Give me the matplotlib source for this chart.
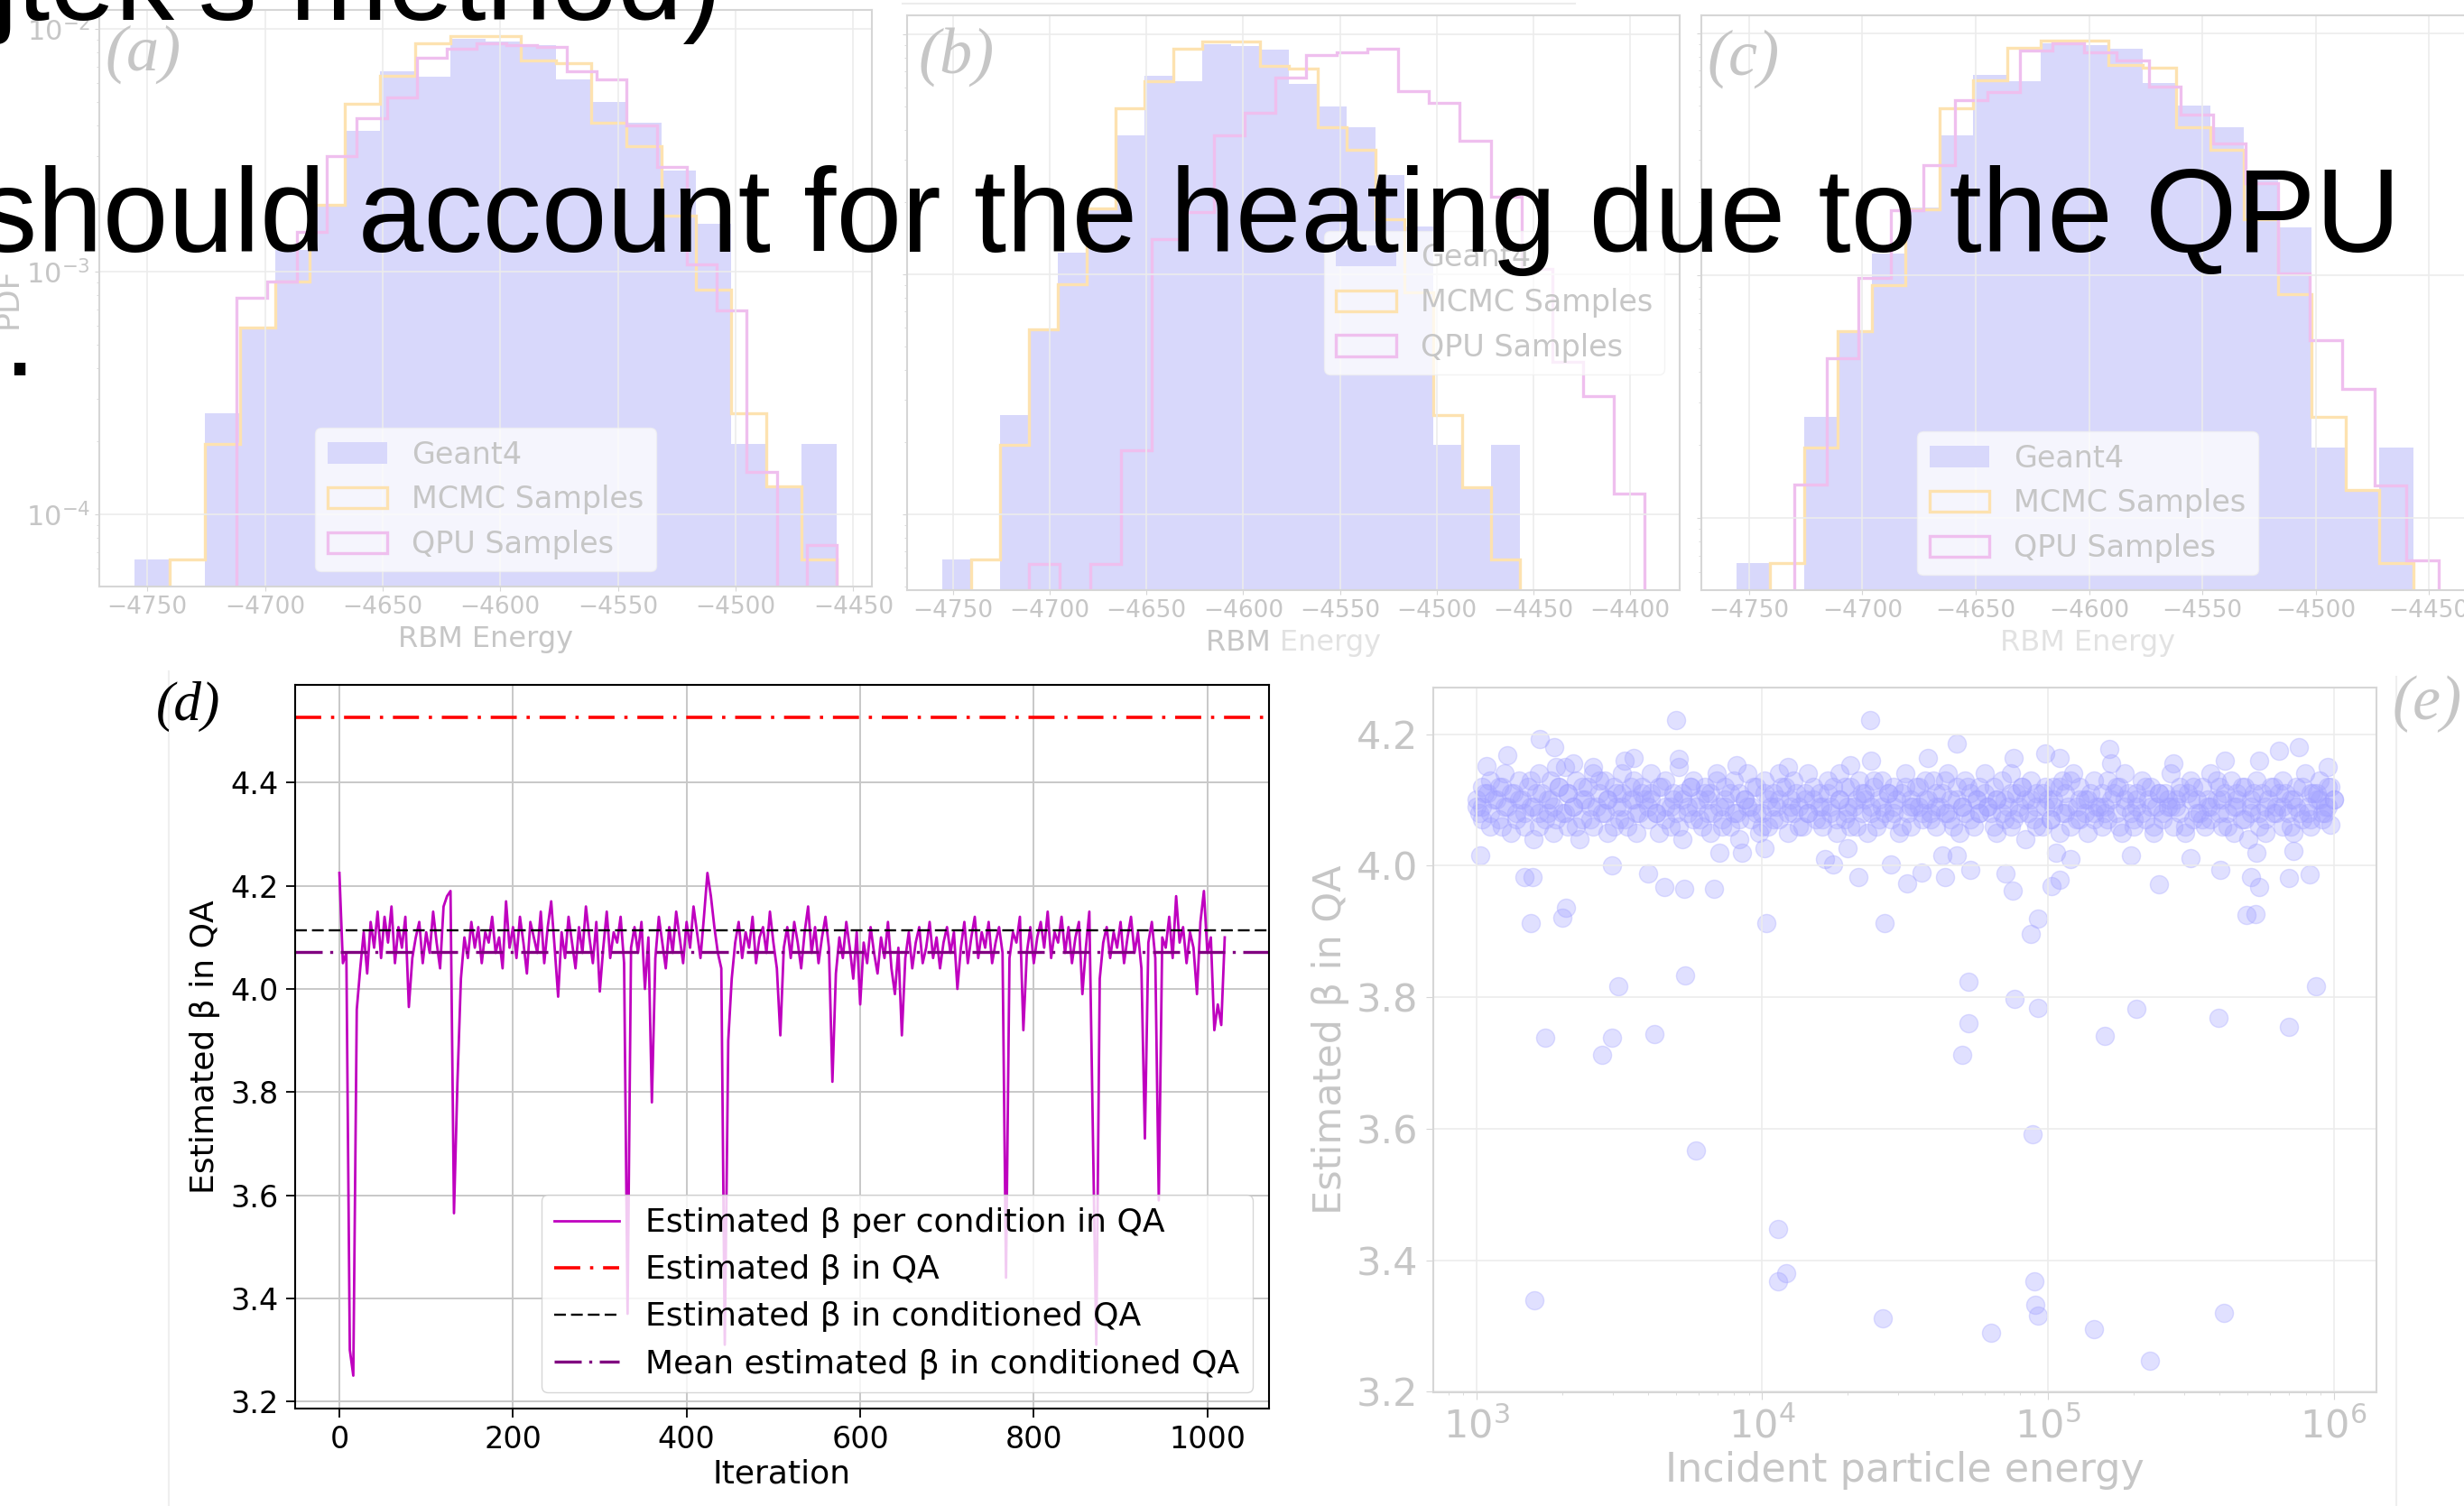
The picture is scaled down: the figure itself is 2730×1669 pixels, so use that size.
import numpy as np
import matplotlib
matplotlib.use("Agg")
import matplotlib.pyplot as plt
from matplotlib.patches import Patch, Rectangle
from matplotlib.lines import Line2D

W, H = 2730, 1669

# --- DATA: RBM energy histograms, PDF per bin (panels a, b, c) ---
g4_range = (-4755.5, -4457.0)
g4_pdf = [6.5e-5, 0, 2.6e-4, 5.9e-4, 1.23e-3, 1.9e-3, 3.8e-3, 6.7e-3, 6.35e-3, 9.1e-3,
          8.9e-3, 8.6e-3, 6.2e-3, 5.0e-3, 4.1e-3, 2.6e-3, 1.58e-3, 1.95e-4, 1.3e-4, 1.95e-4]
mcmc_pdf = [0, 6.5e-5, 1.95e-4, 5.9e-4, 9.1e-4, 1.88e-3, 4.9e-3, 6.4e-3, 8.7e-3, 9.3e-3,
            9.3e-3, 7.4e-3, 7.2e-3, 4.1e-3, 3.3e-3, 1.7e-3, 8.4e-4, 2.6e-4, 1.3e-4, 6.5e-5]
qpu_a_range = (-4712.0, -4457.0)
qpu_a_pdf = [7.8e-4, 9.1e-4, 1.46e-3, 3.0e-3, 4.3e-3, 5.2e-3, 7.6e-3, 8.3e-3, 8.7e-3, 8.6e-3,
             8.4e-3, 6.7e-3, 6.2e-3, 4.0e-3, 2.7e-3, 1.07e-3, 6.9e-4, 1.5e-4, 0, 7.5e-5]
qpu_b_range = (-4710.7, -4392.6)
qpu_b_pdf = [6.2e-5, 0, 6.2e-5, 1.85e-4, 1.4e-3, 1.82e-3, 3.8e-3, 4.7e-3, 6.6e-3, 8.2e-3,
             8.4e-3, 8.7e-3, 5.8e-3, 5.2e-3, 3.6e-3, 2.1e-3, 1.05e-3, 4.3e-4, 3.1e-4, 1.22e-4]
qpu_c_range = (-4730.0, -4445.7)
qpu_c_pdf = [1.37e-4, 4.55e-4, 9.8e-4, 1.85e-3, 2.84e-3, 5.3e-3, 5.7e-3, 8.5e-3, 9.1e-3, 8.3e-3,
             7.7e-3, 6.0e-3, 4.6e-3, 3.5e-3, 2.4e-3, 1.02e-3, 5.4e-4, 3.4e-4, 1.36e-4, 6.7e-5]

# --- DATA: panel (d), estimated beta per condition, one value every 4 iterations ---
beta_step = 4
beta_per_cond = [
    4.225, 4.05, 4.07, 3.30, 3.25, 3.96, 4.04, 4.11, 4.03, 4.13, 4.08, 4.15, 4.06, 4.14, 4.09, 4.16,
    4.05, 4.12, 4.08, 4.14, 3.965, 4.06, 4.10, 4.13, 4.05, 4.11, 4.07, 4.15, 4.09, 4.04, 4.16, 4.18,
    4.19, 3.565, 3.82, 4.02, 4.10, 4.06, 4.13, 4.08, 4.12, 4.05, 4.11, 4.09, 4.14, 4.07, 4.10, 4.04,
    4.17, 4.08, 4.12, 4.06, 4.14, 4.09, 4.03, 4.13, 4.10, 4.07, 4.15, 4.05, 4.12, 4.17, 4.08, 3.985,
    4.11, 4.06, 4.14, 4.09, 4.04, 4.12, 4.07, 4.16, 4.10, 4.05, 4.13, 3.995, 4.08, 4.15, 4.06, 4.11,
    4.09, 4.14, 4.05, 3.37, 4.08, 4.12, 4.07, 4.13, 4.00, 4.10, 3.78, 4.06, 4.14, 4.09, 4.04, 4.12,
    4.07, 4.15, 4.10, 4.05, 4.13, 4.08, 4.16, 4.11, 4.06, 4.14, 4.225, 4.18, 4.12, 4.07, 4.04, 3.31,
    3.90, 4.02, 4.09, 4.13, 4.06, 4.11, 4.08, 4.14, 4.05, 4.10, 4.12, 4.07, 4.15, 4.09, 4.04, 3.91,
    4.08, 4.12, 4.06, 4.13, 4.09, 4.04, 4.11, 4.16, 4.07, 4.12, 4.05, 4.10, 4.14, 4.08, 3.82, 4.03,
    4.10, 4.06, 4.13, 4.08, 4.02, 4.11, 3.97, 4.09, 4.05, 4.12, 4.07, 4.03, 4.10, 4.06, 4.13, 4.04,
    3.99, 4.08, 3.91, 4.06, 4.11, 4.04, 4.09, 4.12, 4.05, 4.08, 4.13, 4.06, 4.10, 4.04, 4.09, 4.12,
    4.07, 4.11, 4.00, 4.08, 4.13, 4.05, 4.10, 4.14, 4.06, 4.11, 4.08, 4.13, 4.05, 4.09, 4.12, 4.07,
    3.44, 4.06, 4.11, 4.09, 4.14, 3.92, 4.07, 4.12, 4.05, 4.10, 4.13, 4.08, 4.15, 4.06, 4.11, 4.09,
    4.14, 4.07, 4.12, 4.05, 4.10, 4.13, 3.99, 4.08, 4.15, 3.73, 3.31, 4.02, 4.09, 4.12, 4.06, 4.11,
    4.08, 4.13, 4.05, 4.10, 4.14, 4.07, 4.11, 4.04, 3.71, 4.09, 4.13, 4.06, 3.59, 4.10, 4.08, 4.14,
    4.06, 4.18, 4.09, 4.12, 4.05, 4.11, 4.08, 3.99, 4.13, 4.19, 4.07, 4.10, 3.92, 3.97, 3.93, 4.10,
]
beta_qa = 4.526
beta_cond_qa = 4.114
beta_cond_mean = 4.072
d_xticks = [0, 200, 400, 600, 800, 1000]
d_yticks = [3.2, 3.4, 3.6, 3.8, 4.0, 4.2, 4.4]

# --- DATA: panel (e), beta vs incident energy (log10 of energy) ---
band_logE = [
    3.00, 3.01, 3.02, 3.02, 3.04, 3.05, 3.05, 3.07, 3.08, 3.09, 3.10, 3.10, 3.12, 3.13, 3.14, 3.15, 3.15, 3.17, 3.18, 3.19,
    3.20, 3.21, 3.22, 3.22, 3.24, 3.25, 3.26, 3.27, 3.27, 3.29, 3.30, 3.31, 3.32, 3.32, 3.34, 3.35, 3.36, 3.37, 3.37, 3.39,
    3.40, 3.41, 3.41, 3.43, 3.44, 3.45, 3.46, 3.46, 3.48, 3.49, 3.50, 3.51, 3.51, 3.53, 3.54, 3.55, 3.56, 3.56, 3.58, 3.59,
    3.60, 3.61, 3.61, 3.63, 3.64, 3.65, 3.66, 3.66, 3.68, 3.69, 3.70, 3.71, 3.72, 3.72, 3.74, 3.75, 3.76, 3.76, 3.78, 3.79,
    3.80, 3.81, 3.82, 3.82, 3.84, 3.85, 3.86, 3.87, 3.87, 3.89, 3.90, 3.91, 3.92, 3.92, 3.94, 3.95, 3.96, 3.96, 3.98, 3.99,
    4.00, 4.01, 4.02, 4.02, 4.04, 4.05, 4.06, 4.06, 4.08, 4.09, 4.10, 4.11, 4.11, 4.13, 4.14, 4.15, 4.16, 4.16, 4.18, 4.19,
    4.20, 4.21, 4.21, 4.23, 4.24, 4.25, 4.26, 4.27, 4.27, 4.29, 4.30, 4.31, 4.31, 4.33, 4.34, 4.35, 4.36, 4.37, 4.38, 4.39,
    4.40, 4.41, 4.42, 4.43, 4.44, 4.45, 4.46, 4.46, 4.48, 4.49, 4.50, 4.51, 4.52, 4.52, 4.54, 4.55, 4.56, 4.57, 4.57, 4.59,
    4.60, 4.61, 4.61, 4.63, 4.64, 4.65, 4.66, 4.66, 4.68, 4.69, 4.70, 4.71, 4.71, 4.73, 4.74, 4.75, 4.76, 4.76, 4.78, 4.79,
    4.80, 4.81, 4.82, 4.82, 4.84, 4.85, 4.86, 4.87, 4.87, 4.89, 4.90, 4.91, 4.92, 4.92, 4.94, 4.95, 4.96, 4.96, 4.98, 4.99,
    5.00, 5.01, 5.02, 5.02, 5.04, 5.05, 5.06, 5.06, 5.08, 5.09, 5.10, 5.11, 5.11, 5.13, 5.14, 5.15, 5.16, 5.16, 5.18, 5.19,
    5.20, 5.21, 5.21, 5.23, 5.24, 5.25, 5.26, 5.27, 5.27, 5.29, 5.30, 5.31, 5.31, 5.33, 5.34, 5.35, 5.36, 5.37, 5.38, 5.39,
    5.40, 5.41, 5.42, 5.43, 5.44, 5.45, 5.46, 5.46, 5.48, 5.49, 5.50, 5.51, 5.52, 5.52, 5.54, 5.55, 5.56, 5.57, 5.57, 5.59,
    5.60, 5.61, 5.61, 5.63, 5.64, 5.65, 5.66, 5.66, 5.68, 5.69, 5.70, 5.71, 5.71, 5.73, 5.74, 5.75, 5.76, 5.76, 5.78, 5.79,
    5.80, 5.81, 5.82, 5.82, 5.84, 5.85, 5.86, 5.87, 5.87, 5.89, 5.90, 5.91, 5.92, 5.92, 5.94, 5.95, 5.96, 5.97, 5.98, 6.00,
]
band_beta = [
    4.10, 4.08, 4.12, 4.09, 4.11, 4.06, 4.13, 4.10, 4.07, 4.12, 4.09, 4.14, 4.05, 4.11, 4.08, 4.13, 4.10, 4.06, 4.12, 4.09,
    4.04, 4.11, 4.08, 4.14, 4.07, 4.10, 4.13, 4.05, 4.09, 4.12, 4.08, 4.15, 4.06, 4.11, 4.09, 4.13, 4.04, 4.10, 4.07, 4.12,
    4.09, 4.14, 4.06, 4.11, 4.08, 4.13, 4.10, 4.05, 4.12, 4.09, 4.07, 4.14, 4.11, 4.06, 4.10, 4.13, 4.08, 4.05, 4.12, 4.10,
    4.07, 4.11, 4.14, 4.08, 4.05, 4.12, 4.09, 4.13, 4.06, 4.10, 4.08, 4.15, 4.11, 4.04, 4.09, 4.12, 4.07, 4.13, 4.10, 4.06,
    4.12, 4.08, 4.11, 4.05, 4.14, 4.09, 4.07, 4.12, 4.10, 4.06, 4.13, 4.08, 4.11, 4.04, 4.10, 4.14, 4.07, 4.09, 4.12, 4.05,
    4.08, 4.13, 4.10, 4.06, 4.11, 4.09, 4.14, 4.07, 4.12, 4.05, 4.10, 4.08, 4.13, 4.09, 4.06, 4.11, 4.14, 4.08, 4.10, 4.07,
    4.11, 4.06, 4.09, 4.13, 4.08, 4.12, 4.05, 4.10, 4.14, 4.07, 4.09, 4.12, 4.06, 4.10, 4.13, 4.08, 4.11, 4.05, 4.09, 4.12,
    4.06, 4.10, 4.13, 4.08, 4.11, 4.07, 4.12, 4.09, 4.05, 4.11, 4.14, 4.08, 4.10, 4.06, 4.12, 4.09, 4.07, 4.13, 4.10, 4.08,
    4.13, 4.09, 4.06, 4.11, 4.08, 4.14, 4.10, 4.07, 4.12, 4.05, 4.09, 4.13, 4.08, 4.11, 4.06, 4.10, 4.12, 4.08, 4.14, 4.09,
    4.08, 4.12, 4.05, 4.10, 4.13, 4.07, 4.09, 4.14, 4.06, 4.11, 4.08, 4.12, 4.04, 4.10, 4.13, 4.07, 4.09, 4.11, 4.06, 4.12,
    4.10, 4.07, 4.12, 4.09, 4.05, 4.13, 4.08, 4.11, 4.06, 4.14, 4.09, 4.07, 4.12, 4.10, 4.05, 4.11, 4.08, 4.13, 4.09, 4.06,
    4.09, 4.13, 4.07, 4.11, 4.08, 4.12, 4.05, 4.10, 4.14, 4.08, 4.06, 4.11, 4.09, 4.13, 4.07, 4.10, 4.12, 4.05, 4.09, 4.11,
    4.07, 4.11, 4.09, 4.14, 4.06, 4.10, 4.12, 4.08, 4.05, 4.11, 4.13, 4.07, 4.10, 4.08, 4.12, 4.06, 4.09, 4.14, 4.07, 4.10,
    4.12, 4.06, 4.10, 4.08, 4.13, 4.05, 4.09, 4.11, 4.07, 4.12, 4.04, 4.10, 4.08, 4.13, 4.06, 4.11, 4.09, 4.05, 4.12, 4.08,
    4.09, 4.11, 4.06, 4.13, 4.08, 4.10, 4.05, 4.12, 4.09, 4.07, 4.14, 4.08, 4.11, 4.06, 4.10, 4.13, 4.07, 4.09, 4.12, 4.10,
]
core_logE = [
    3.00, 3.02, 3.03, 3.05, 3.06, 3.08, 3.09, 3.11, 3.12, 3.14, 3.16, 3.17, 3.19, 3.20, 3.22, 3.23, 3.25, 3.26, 3.28, 3.29,
    3.31, 3.32, 3.34, 3.35, 3.37, 3.38, 3.40, 3.42, 3.43, 3.45, 3.46, 3.48, 3.49, 3.51, 3.52, 3.54, 3.55, 3.57, 3.58, 3.60,
    3.61, 3.63, 3.64, 3.66, 3.68, 3.69, 3.71, 3.72, 3.74, 3.75, 3.77, 3.78, 3.80, 3.81, 3.83, 3.84, 3.86, 3.87, 3.89, 3.90,
    3.92, 3.94, 3.95, 3.97, 3.98, 4.00, 4.01, 4.03, 4.04, 4.06, 4.07, 4.09, 4.10, 4.12, 4.13, 4.15, 4.16, 4.18, 4.20, 4.21,
    4.23, 4.24, 4.26, 4.27, 4.29, 4.30, 4.32, 4.33, 4.35, 4.36, 4.38, 4.39, 4.41, 4.42, 4.44, 4.46, 4.47, 4.49, 4.50, 4.52,
    4.53, 4.55, 4.56, 4.58, 4.59, 4.61, 4.62, 4.64, 4.65, 4.67, 4.68, 4.70, 4.72, 4.73, 4.75, 4.76, 4.78, 4.79, 4.81, 4.82,
    4.84, 4.85, 4.87, 4.88, 4.90, 4.91, 4.93, 4.94, 4.96, 4.98, 4.99, 5.01, 5.02, 5.04, 5.05, 5.07, 5.08, 5.10, 5.11, 5.13,
    5.14, 5.16, 5.17, 5.19, 5.20, 5.22, 5.24, 5.25, 5.27, 5.28, 5.30, 5.31, 5.33, 5.34, 5.36, 5.37, 5.39, 5.40, 5.42, 5.43,
    5.45, 5.46, 5.48, 5.50, 5.51, 5.53, 5.54, 5.56, 5.57, 5.59, 5.60, 5.62, 5.63, 5.65, 5.66, 5.68, 5.69, 5.71, 5.72, 5.74,
    5.76, 5.77, 5.79, 5.80, 5.82, 5.83, 5.85, 5.86, 5.88, 5.89, 5.91, 5.92, 5.94, 5.95, 5.97, 5.98, 5.99, 6.00, 5.96, 5.93,
]
core_beta = [
    4.09, 4.07, 4.11, 4.08, 4.10, 4.12, 4.06, 4.09, 4.11, 4.07, 4.10, 4.08, 4.13, 4.09, 4.06, 4.11, 4.08, 4.10, 4.07, 4.12,
    4.08, 4.11, 4.09, 4.06, 4.12, 4.10, 4.07, 4.09, 4.13, 4.08, 4.10, 4.06, 4.11, 4.09, 4.07, 4.12, 4.10, 4.08, 4.11, 4.09,
    4.10, 4.08, 4.12, 4.07, 4.09, 4.11, 4.06, 4.10, 4.08, 4.12, 4.09, 4.07, 4.11, 4.10, 4.08, 4.13, 4.06, 4.09, 4.11, 4.08,
    4.07, 4.10, 4.09, 4.12, 4.08, 4.06, 4.11, 4.09, 4.07, 4.10, 4.12, 4.08, 4.09, 4.11, 4.06, 4.10, 4.08, 4.12, 4.09, 4.07,
    4.11, 4.09, 4.07, 4.10, 4.12, 4.08, 4.09, 4.06, 4.11, 4.10, 4.08, 4.13, 4.07, 4.09, 4.11, 4.08, 4.10, 4.06, 4.12, 4.09,
    4.09, 4.12, 4.08, 4.10, 4.07, 4.11, 4.09, 4.13, 4.08, 4.06, 4.10, 4.09, 4.12, 4.07, 4.10, 4.08, 4.11, 4.09, 4.06, 4.10,
    4.08, 4.10, 4.11, 4.07, 4.09, 4.12, 4.08, 4.10, 4.06, 4.11, 4.09, 4.07, 4.10, 4.12, 4.08, 4.09, 4.13, 4.07, 4.10, 4.08,
    4.10, 4.07, 4.09, 4.11, 4.08, 4.10, 4.12, 4.06, 4.09, 4.11, 4.07, 4.10, 4.08, 4.12, 4.09, 4.06, 4.11, 4.08, 4.10, 4.09,
    4.09, 4.11, 4.06, 4.10, 4.12, 4.08, 4.07, 4.10, 4.09, 4.13, 4.08, 4.11, 4.06, 4.09, 4.10, 4.12, 4.07, 4.09, 4.11, 4.08,
    4.07, 4.10, 4.12, 4.08, 4.09, 4.11, 4.06, 4.10, 4.08, 4.12, 4.09, 4.07, 4.11, 4.10, 4.08, 4.09, 4.12, 4.10, 4.08, 4.11,
]
out_logE = [
    3.70, 4.377, 4.68, 3.222, 3.274, 5.215, 5.879, 5.81,
    3.17, 3.196, 3.19, 3.30, 3.313, 3.476, 3.603, 3.658, 3.728, 3.832, 4.016, 4.338, 4.429, 4.507,
    4.559, 4.642, 4.73, 4.852, 4.878, 4.94, 4.966, 5.013, 5.04, 5.39, 5.605, 5.694, 5.727, 5.71,
    5.739, 5.843, 5.916,
    3.497, 3.24, 3.442, 3.476, 3.624, 3.73, 3.769, 4.722, 4.722, 4.70, 4.883, 4.966, 4.948, 5.2,
    5.311, 5.597, 5.843, 5.937,
    4.055, 4.055, 4.084, 3.204, 4.424, 4.80, 4.953, 4.956, 4.966, 5.163, 5.358, 5.615,
    3.014, 3.035, 3.11, 3.28, 3.34, 3.41, 3.52, 3.55, 3.71, 3.91, 4.09, 4.31, 4.38, 4.58, 4.88,
    4.99, 5.04, 5.22, 5.44, 5.62, 5.74, 5.98, 5.99,
    3.85, 3.93, 4.01, 4.22, 4.25, 4.30, 4.45, 4.63, 4.68, 5.03, 5.08, 5.29, 5.5, 5.73, 5.86,
]
out_beta = [
    4.222, 4.222, 4.185, 4.193, 4.18, 4.177, 4.18, 4.174,
    3.983, 3.983, 3.913, 3.921, 3.936, 4.0, 3.988, 3.967, 3.965, 3.965, 3.913, 3.983, 3.913, 3.973,
    3.99, 3.983, 3.994, 3.988, 3.962, 3.896, 3.919, 3.969, 3.979, 3.971, 3.994, 3.925, 3.927, 3.983,
    3.967, 3.981, 3.987,
    3.817, 3.739, 3.713, 3.739, 3.744, 3.833, 3.567, 3.823, 3.761, 3.713, 3.797, 3.784, 3.591, 3.741,
    3.782, 3.769, 3.755, 3.817,
    3.447, 3.368, 3.38, 3.339, 3.312, 3.29, 3.368, 3.333, 3.316, 3.295, 3.248, 3.32,
    4.016, 4.152, 4.168, 4.15, 4.156, 4.15, 4.16, 4.164, 4.162, 4.153, 4.15, 4.153, 4.16, 4.164, 4.164,
    4.17, 4.164, 4.156, 4.156, 4.16, 4.16, 4.15, 4.062,
    4.019, 4.02, 4.027, 4.01, 4.002, 4.027, 4.002, 4.016, 4.016, 4.019, 4.01, 4.015, 4.012, 4.019, 4.023,
]

# --- STYLE ---
G4_C, MCMC_C, QPU_C = '#d8d8fb', '#fde2b0', '#efbfee'
FADE_TXT, FADE_SPINE, FADE_GRID = '#c6c6c6', '#d6d6d6', '#ececec'
plt.rcParams['font.family'] = 'DejaVu Sans'
plt.rcParams['mathtext.fontset'] = 'dejavusans'

fig = plt.figure(figsize=(W / 100, H / 100), dpi=100)


def box(x0, y0, x1, y1):
    # pixel box (top-left origin) -> figure fraction rect
    return [x0 / W, 1 - y1 / H, (x1 - x0) / W, (y1 - y0) / H]


def fade(ax, size):
    for s in ax.spines.values():
        s.set_color(FADE_SPINE)
        s.set_linewidth(1.5)
    ax.tick_params(which='both', colors=FADE_SPINE, labelcolor=FADE_TXT, labelsize=size)
    ax.grid(True, which='major', color=FADE_GRID, lw=1.2)


def rbm_panel(rect, q_range, q_pdf, ylim, loc, show_y):
    ax = fig.add_axes(box(*rect))
    ax.set_yscale('log')
    floor = 1e-9
    g4_edges = np.linspace(*g4_range, len(g4_pdf) + 1)
    q_edges = np.linspace(*q_range, len(q_pdf) + 1)
    ax.stairs(np.maximum(g4_pdf, floor), g4_edges, baseline=floor, fill=True, color=G4_C, lw=0)
    ax.stairs(np.maximum(mcmc_pdf, floor), g4_edges, baseline=floor, color=MCMC_C, lw=2.4)
    ax.stairs(np.maximum(q_pdf, floor), q_edges, baseline=floor, color=QPU_C, lw=2.4)
    ax.set_ylim(*ylim)
    fade(ax, 19)
    ax.tick_params(axis='y', labelsize=22)
    ax.set_xlabel('RBM Energy', fontsize=23, color=FADE_TXT, labelpad=5)
    if show_y:
        ax.set_ylabel('PDF', fontsize=25, color=FADE_TXT, labelpad=2)
    else:
        ax.tick_params(labelleft=False)
    handles = [Patch(facecolor=G4_C, edgecolor='none', label='Geant4'),
               Patch(facecolor='none', edgecolor=MCMC_C, lw=2.4, label='MCMC Samples'),
               Patch(facecolor='none', edgecolor=QPU_C, lw=2.4, label='QPU Samples')]
    ax.legend(handles=handles, loc=loc, fontsize=24, framealpha=0.75, facecolor='white',
              edgecolor='#f0f0f0', labelcolor=FADE_TXT)
    return ax


ax_a = rbm_panel((110, 11, 966, 650), qpu_a_range, qpu_a_pdf, (10 ** -4.297, 10 ** -1.922), 'lower center', True)
ax_b = rbm_panel((1005, 17, 1861, 654), qpu_b_range, qpu_b_pdf, (10 ** -4.316, 10 ** -1.921), 'center right', False)
ax_c = rbm_panel((1885, 17, 2741, 654), qpu_c_range, qpu_c_pdf, (10 ** -4.298, 10 ** -1.927), 'lower center', False)

# semi-transparent white of the faded (e) picture over the bottom of (b)/(c)
fig.add_artist(Rectangle((1419 / W, 0), (W - 1419) / W, (H - 690) / H, transform=fig.transFigure,
                         facecolor='white', edgecolor='none', alpha=0.5, zorder=0.5))
fig.add_artist(Line2D([1000 / W, 1745 / W], [1 - 4 / H] * 2, transform=fig.transFigure, color='#ececec', lw=1.5))
fig.add_artist(Line2D([187 / W] * 2, [0, 1 - 744 / H], transform=fig.transFigure, color='#efefef', lw=1.5))
fig.add_artist(Line2D([2655 / W] * 2, [0, 1 - 750 / H], transform=fig.transFigure, color='#efefef', lw=1.5))

# --- PANEL (d) ---
ax_d = fig.add_axes(box(327, 759, 1406, 1561))
ax_d.set_zorder(1)
iters = np.arange(len(beta_per_cond)) * beta_step
ax_d.plot(iters, beta_per_cond, color='m', lw=2.0, label='Estimated β per condition in QA')
ax_d.axhline(beta_qa, color='red', lw=2.6, ls=(0, (8, 3, 1, 3)), label='Estimated β in QA')
ax_d.axhline(beta_cond_qa, color='black', lw=1.7, ls=(0, (5.5, 2.4)), label='Estimated β in conditioned QA')
ax_d.axhline(beta_cond_mean, color='purple', lw=2.4, ls=(0, (9, 2.5, 1, 2.5)),
             label='Mean estimated β in conditioned QA')
ax_d.set_xticks(d_xticks)
ax_d.set_yticks(d_yticks)
ax_d.grid(True, color='#c8c8c8', lw=1.4)
ax_d.tick_params(labelsize=24, length=7, width=1.3, pad=6)
for s in ax_d.spines.values():
    s.set_linewidth(1.5)
ax_d.set_xlabel('Iteration', fontsize=26, labelpad=3)
ax_d.set_ylabel('Estimated β in QA', fontsize=26, labelpad=8)
ax_d.legend(loc='lower right', fontsize=26, labelspacing=0.5, borderpad=0.4, framealpha=0.8)

# --- PANEL (e) ---
ax_e = fig.add_axes(box(1588, 762, 2633, 1543))
ax_e.set_zorder(1)
energy = 10 ** np.array(band_logE + core_logE + out_logE)
ax_e.scatter(energy, band_beta + core_beta + out_beta, s=210, color='#a0a0ff', alpha=0.32)
ax_e.set_xscale('log')
fade(ax_e, 31)
ax_e.tick_params(which='major', length=6, pad=6)
ax_e.set_xlabel('Incident particle energy', fontsize=32, color=FADE_TXT, labelpad=4)
ax_e.set_ylabel('Estimated β in QA', fontsize=31, color=FADE_TXT, labelpad=6)

# --- panel tags ---
tag = dict(family='Liberation Serif', style='italic', va='center')
fig.text(116 / W, 1 - 60 / H, '(a)', fontsize=52, color=FADE_TXT, **tag)
fig.text(1017 / W, 1 - 63 / H, '(b)', fontsize=52, color=FADE_TXT, **tag)
fig.text(1891 / W, 1 - 65 / H, '(c)', fontsize=52, color=FADE_TXT, **tag)
fig.text(173 / W, 1 - 783 / H, '(d)', fontsize=44, color='black', **tag)
fig.text(2651 / W, 1 - 780 / H, '(e)', fontsize=50, color=FADE_TXT, **tag)

# --- slide text on top ---
slide = dict(family='Liberation Sans', fontsize=94, color='black', va='baseline', zorder=5)
fig.text(-10 / W, 1 - 22 / H, 'jtek’s method)', **slide)
fig.text(-24 / W, 1 - 279 / H, 'should account for the heating due to the QPU', **slide)
fig.text(3 / W, 1 - 416 / H, '.', **slide)

fig.savefig('out.png', dpi=100)
